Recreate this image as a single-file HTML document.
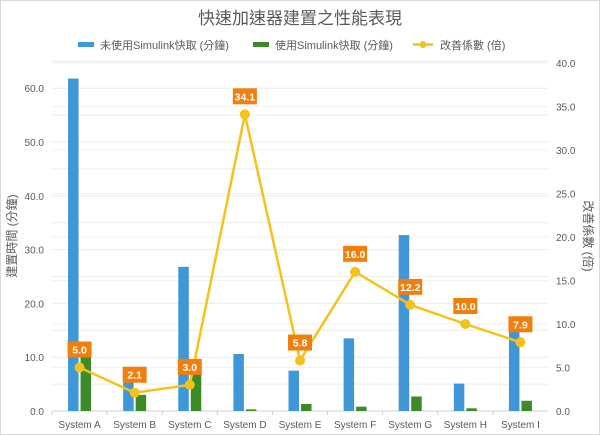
<!DOCTYPE html>
<html><head><meta charset="utf-8"><style>
html,body{margin:0;padding:0;background:#fff;}
svg{display:block;font-family:"Liberation Sans","Noto Sans CJK TC",sans-serif;}
</style></head><body>
<svg id="c" width="600" height="435" xmlns="http://www.w3.org/2000/svg">
<rect x="0.5" y="0.5" width="599" height="434" fill="#fff" stroke="#d9d9d9"/>
<text x="300" y="24" font-size="17" fill="#595959" text-anchor="middle">快速加速器建置之性能表現</text>
<rect x="78" y="42" width="16" height="5" fill="#3f97d8"/>
<text x="100" y="49" font-size="11" fill="#595959">未使用Simulink快取 (分鐘)</text>
<rect x="253" y="42" width="16" height="5" fill="#3d8a28"/>
<text x="275" y="49" font-size="11" fill="#595959">使用Simulink快取 (分鐘)</text>
<line x1="413" y1="44.5" x2="433" y2="44.5" stroke="#f5c21b" stroke-width="2.5"/>
<circle cx="423" cy="44.5" r="3.5" fill="#f5c21b"/>
<text x="440" y="49" font-size="11" fill="#595959">改善係數 (倍)</text>
<text transform="translate(16,236) rotate(-90)" font-size="12" fill="#595959" text-anchor="middle">建置時間 (分鐘)</text>
<text transform="translate(584,236) rotate(90)" font-size="12" fill="#595959" text-anchor="middle">改善係數 (倍)</text>
<g id="g"></g>
</svg>
<script>
var g=document.getElementById('g'),s='';
var X0=52,X1=548,Y0=411,L=5.38,R=8.7,cw=(X1-X0)/9;
for(var v=5;v<=65;v+=5){var y=Y0-v*L;s+='<line x1="'+X0+'" x2="'+X1+'" y1="'+y+'" y2="'+y+'" stroke="#ececec"/>';}
for(var v=5;v<=40;v+=5){var y=Y0-v*R;s+='<line x1="'+X0+'" x2="'+X1+'" y1="'+y+'" y2="'+y+'" stroke="#f2f2f2"/>';}
for(var v=0;v<=60;v+=10){var y=Y0-v*L;s+='<text x="44" y="'+(y+4)+'" font-size="10" fill="#595959" text-anchor="end">'+v.toFixed(1)+'</text>';}
for(var v=0;v<=40;v+=5){var y=Y0-v*R;s+='<text x="556" y="'+(y+4)+'" font-size="10" fill="#595959">'+v.toFixed(1)+'</text>';}
s+='<line x1="'+X0+'" x2="'+X1+'" y1="'+Y0+'" y2="'+Y0+'" stroke="#d0d0d0"/>';
var n=['A','B','C','D','E','F','G','H','I'],b=[61.8,6.3,26.8,10.6,7.5,13.5,32.7,5.1,15.0],gr=[12.4,3.0,8.9,0.3,1.3,0.8,2.7,0.5,1.9],r=[5.0,2.1,3.0,34.1,5.8,16.0,12.2,10.0,7.9];
var pts=[];
for(var i=0;i<9;i++){var c=X0+cw*(i+0.5);
s+='<line x1="'+(X0+cw*i)+'" x2="'+(X0+cw*i)+'" y1="'+Y0+'" y2="'+(Y0+4)+'" stroke="#d0d0d0"/>';
s+='<rect x="'+(c-11.5)+'" y="'+(Y0-b[i]*L)+'" width="10.5" height="'+(b[i]*L)+'" fill="#3f97d8"/>';
s+='<rect x="'+(c+1)+'" y="'+(Y0-gr[i]*L)+'" width="10.5" height="'+(gr[i]*L)+'" fill="#3d8a28"/>';
s+='<text x="'+c+'" y="428" font-size="10" fill="#595959" text-anchor="middle">System '+n[i]+'</text>';
pts.push(c+','+(Y0-r[i]*R));}
s+='<polyline points="'+pts.join(' ')+'" fill="none" stroke="#f5c21b" stroke-width="2.5"/>';
for(var i=0;i<9;i++){var c=X0+cw*(i+0.5),y=Y0-r[i]*R;
s+='<circle cx="'+c+'" cy="'+y+'" r="5" fill="#f5c21b"/>';
s+='<rect x="'+(c-12)+'" y="'+(y-26)+'" width="24" height="16" fill="#f07f0d"/>';
s+='<text x="'+c+'" y="'+(y-14)+'" font-size="10.5" font-weight="bold" fill="#fff" text-anchor="middle">'+r[i].toFixed(1)+'</text>';}
g.innerHTML=s;
</script>
</body></html>
